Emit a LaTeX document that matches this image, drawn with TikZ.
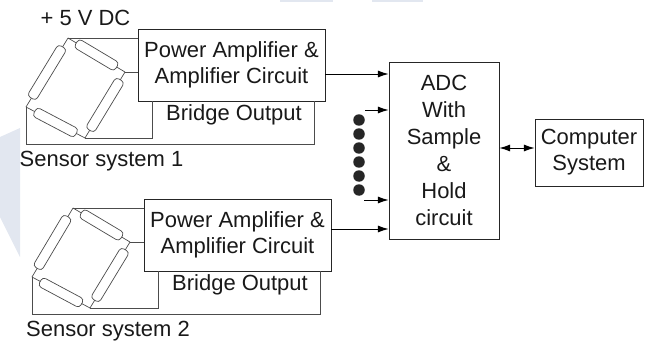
\documentclass[tikz,border=0pt]{standalone}
\usepackage{fontspec}
\setmainfont{Liberation Sans}
\usetikzlibrary{arrows.meta}
\definecolor{markpale}{RGB}{226,231,240}
\begin{document}
\begin{tikzpicture}[x=.02cm, y=-.02cm]
      \tikzset{block/.style={draw, line width=.55pt, black!85, text=black!90, fill=white, align=center, inner sep=0pt, font=\fontsize{12.5}{14.8}\selectfont}}
      \tikzset{plain/.style={inner sep=0pt, text=black!90, font=\fontsize{12.5}{14.8}\selectfont}}
      \tikzset{gauge/.style={draw, sloped, fill=white, rounded corners=2pt, inner sep=0pt, minimum height=.2cm}}
      \tikzset{wire/.style={draw, line width=.4pt, black!70}}
      \tikzset{enclosed/.style={circle, fill=black!85, inner sep=0pt, minimum size=.23cm}}
      \useasboundingbox (0,0) rectangle (645,341);
%% Background
      	\fill[markpale] (0,137) -- (20,128) -- (20,257) -- (0,217) -- cycle;
      	\fill[markpale] (280,0) rectangle (333,2);
      	\fill[markpale] (372,0) rectangle (423,2);
%% Blocks
      	\node[block, minimum width=3.74cm, minimum height=1.44cm] (pa1) at (231.5,65) {Power Amplifier \&\\Amplifier Circuit};
      	\node[block, minimum width=3.74cm, minimum height=1.44cm] (pa2) at (237.5,235) {Power Amplifier \&\\Amplifier Circuit};
      	\node[block, minimum width=2.2cm, minimum height=3.54cm, font=\fontsize{12.5}{15.3}\selectfont] (adc) at (444,150.5) {ADC\\With\\Sample\\\&\\Hold\\circuit};
      	\node[block, minimum width=2.16cm, minimum height=1.34cm] (pc) at (589,152.5) {Computer\\System};
%% Vertices
      	\coordinate (t1) at (68,38);
      	\coordinate (r1) at (125,72);
      	\coordinate (b1) at (85,138);
      	\coordinate (l1) at (26,107);
      	\coordinate (t2) at (73,208);
      	\coordinate (r2) at (130,242);
      	\coordinate (b2) at (90,308);
      	\coordinate (l2) at (32,277);
      	\coordinate (c1) at (314,144);
      	\coordinate (c2) at (320,314);
      	\coordinate (in1) at (365,110);
      	\coordinate (in2) at (364,200);
%Bridges
		\path[wire] (t1) edge node[gauge, minimum width=.94cm] {} (r1);
		\path[wire] (r1) edge node[gauge, minimum width=1.18cm] {} (b1);
		\path[wire] (b1) edge node[gauge, minimum width=.94cm] {} (l1);
		\path[wire] (l1) edge node[gauge, minimum width=1.2cm] {} (t1);
		\path[wire] (t2) edge node[gauge, minimum width=.94cm] {} (r2);
		\path[wire] (r2) edge node[gauge, minimum width=1.18cm] {} (b2);
		\path[wire] (b2) edge node[gauge, minimum width=.94cm] {} (l2);
		\path[wire] (l2) edge node[gauge, minimum width=1.2cm] {} (t2);
%Wires
		\draw[wire] (t1) -- (t1 -| pa1.west);
		\draw[wire] (r1) -- (r1 -| pa1.west);
		\draw[wire] (b1) -| ([xshift=.3cm]pa1.south west);
		\draw[wire] (l1) |- (c1) -- (c1 |- pa1.south);
		\draw[wire] (t2) -- (t2 -| pa2.west);
		\draw[wire] (r2) -- (r2 -| pa2.west);
		\draw[wire] (b2) -| ([xshift=.3cm]pa2.south west);
		\draw[wire] (l2) |- (c2) -- (c2 |- pa2.south);
%Edges
		\path[->, > = {Latex[length=6pt, width=4pt]}, line width=.5pt] (pa1.east |- 0,74) edge (adc.west |- 0,74);
		\path[->, > = {Latex[length=6pt, width=4pt]}, line width=.5pt] (in1) edge (in1 -| adc.west);
		\path[->, > = {Latex[length=6pt, width=4pt]}, line width=.5pt] (in2) edge (in2 -| adc.west);
		\path[->, > = {Latex[length=6pt, width=4pt]}, line width=.5pt] (pa2.east |- 0,229) edge (adc.west |- 0,229);
		\path[<->, > = {Latex[length=6pt, width=4pt]}, line width=.5pt] (adc.east |- 0,148) edge (pc.west |- 0,148);
%Dots
      	\node[enclosed] (d1) at (359,120) {};
      	\node[enclosed] (d2) at (359,134) {};
      	\node[enclosed] (d3) at (359,148) {};
      	\node[enclosed] (d4) at (359,162) {};
      	\node[enclosed] (d5) at (359,176) {};
      	\node[enclosed] (d6) at (359,190) {};
%Labels
      	\node[plain] (dc) at (85.5,18) {+ 5 V DC};
      	\node[plain] (out1) at (234,115) {Bridge Output};
      	\node[plain] (out2) at (240,285) {Bridge Output};
      	\node[plain] (sys1) at (101.5,161) {Sensor system 1};
      	\node[plain] (sys2) at (108,331) {Sensor system 2};
	\end{tikzpicture}
\end{document}
